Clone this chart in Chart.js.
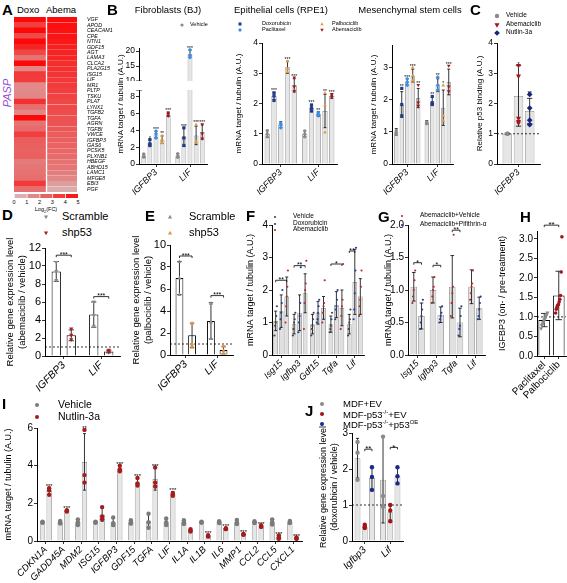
<!DOCTYPE html>
<html>
<head>
<meta charset="utf-8">
<script src="https://cdn.jsdelivr.net/npm/chart.js@4.4.1/dist/chart.umd.min.js"></script>
<style>
body { margin: 0; background: #fff; }
#fig { position: relative; width: 567px; height: 583px; overflow: hidden; background: #fff;
       font-family: 'Liberation Sans', Arial, Helvetica, sans-serif; color: #000; }
#fig canvas { position: absolute; }
.t { position: absolute; white-space: nowrap; line-height: 1; }
</style>
</head>
<body>
<div id="fig"></div>
<script>
// ---- A: PASP heatmap ----
const paspGenes = ['VGF','APOD','CEACAM1','CPE','NTN1','GDF15','AGT','LAMA3','CLCA2','PLA2G15','ISG15','LIF','MR1','PLTP','TSKU','PLAT','LYNX1','TGFB2','TGFA','AGRN','TGFBI','VWCE','IGFBP3','GAS6','PCSK5','PLXNB1','HBEGF','ABHD15','LAMC1','MFGE8','EBI3','PGF'];
const doxoLog2FC = [5.0,3.4,5.0,3.1,5.0,4.2,3.2,2.0,5.0,1.5,3.6,3.5,1.4,1.4,1.5,3.8,2.1,1.5,5.0,2.0,2.2,3.4,2.6,2.5,2.4,2.5,1.8,1.9,2.0,2.1,3.6,2.1];
const abemaLog2FC = [4.9,4.8,4.7,4.6,4.5,4.3,4.2,4.1,3.9,3.8,3.7,3.6,3.5,3.4,3.3,3.2,3.1,3.0,2.9,2.8,2.7,2.6,2.5,2.4,2.3,2.2,2.0,1.9,1.7,1.5,0.9,0.6];
const colorbarSteps = [0, 1, 2, 3, 4];
const colorbarTicks = [0, 1, 2, 3, 4, 5];

// ---- B: three cell types, rows = vehicle, doxorubicin, paclitaxel, palbociclib, abemaciclib ----
const bCats = ['IGFBP3', 'LIF'];
const bjMean = [[1.0,1.0],[2.5,3.2],[3.5,19.0],[2.9,3.4],[5.9,3.8]];
const bjSd = [[0.2,0.25],[0.35,1.1],[0.4,1.2],[0.45,1.1],[0.25,0.85]];
const bjPts = [[[0.8,0.95,1.2],[0.8,1.0,1.25]],[[2.2,2.4,2.9],[2.2,3.1,4.3]],[[3.1,3.6,3.9],[17.9,18.4,20.4]],[[2.5,2.8,3.4],[2.6,2.7,4.7]],[[5.7,5.9,6.1],[3.0,3.6,4.7]]];
const bjStars = [['',''],['*','***'],['***','***'],['**','***'],['***','***']];
const bjTicksHigh = [10, 15, 20];
const bjTicksLow = [0, 2, 4, 6, 8];

const rpeMean = [[1.0,1.0],[2.25,1.85],[1.3,1.65],[3.2,1.75],[2.6,2.25]];
const rpeSd = [[0.12,0.1],[0.12,0.12],[0.1,0.08],[0.2,0.55],[0.22,0.08]];
const rpePts = [[[0.9,1.0,1.1],[0.9,1.0,1.1]],[[2.1,2.25,2.35],[1.75,1.85,1.95]],[[1.2,1.3,1.35],[1.6,1.65,1.7]],[[3.05,3.15,3.4],[1.05,1.95,2.35]],[[2.4,2.55,2.85],[2.2,2.25,2.3]]];
const rpeStars = [['',''],['***','***'],['','**'],['***','**'],['***','***']];
const rpeTicks = [0, 1, 2, 3, 4];

const mscMean = [[1.0,1.3],[1.85,1.95],[2.55,2.45],[2.75,1.75],[2.05,2.55]];
const mscSd = [[0.1,0.05],[0.4,0.12],[0.1,0.2],[0.2,0.55],[0.3,0.4]];
const mscPts = [[[0.95,1.0,1.05],[1.25,1.3,1.3]],[[1.5,1.85,2.35],[1.85,1.9,2.1]],[[2.45,2.55,2.65],[2.3,2.45,2.7]],[[2.6,2.75,3.0],[1.35,1.5,2.45]],[[1.8,1.9,2.45],[2.25,2.4,3.05]]];
const mscStars = [['',''],['**','**'],['***','**'],['***','*'],['**','***']];
const mscTicks = [0, 1, 2, 3];

// ---- C: p53 binding, rows = vehicle, abemaciclib, nutlin-3a ----
const cCats = ['IGFBP3'];
const cMean = [[1.0],[2.25],[1.75]];
const cSd = [[0.02],[1.0],[0.42]];
const cPts = [[[1.0,1.0]],[[1.35,1.4,1.5,2.9,3.25]],[[1.3,1.45,1.85,2.3]]];
const cStars = [[''],['*'],['**']];
const cTicks = [0, 1, 2, 3, 4];

// ---- D / E: scramble vs shp53 ----
const deCats = ['IGFBP3', 'LIF'];
const dMean = [[9.4,4.6],[2.3,0.5]];
const dSd = [[1.1,1.4],[0.6,0.15]];
const dPts = [[[8.4,9.4,10.4],[3.3,4.5,6.0]],[[1.8,2.3,3.0],[0.4,0.5,0.65]]];
const dBrackets = [[0,0,0,1,11.2,'***'],[1,0,1,1,6.6,'***']];
const dTicks = [0, 2, 4, 6, 8, 10, 12];
const eMean = [[7.0,3.1],[1.8,0.45]];
const eSd = [[1.5,1.65],[1.1,0.35]];
const ePts = [[[5.5,7.0,8.5],[1.5,3.0,4.7]],[[0.7,1.0,2.9],[0.2,0.4,0.8]]];
const eBrackets = [[0,0,0,1,9.0,'***'],[1,0,1,1,5.4,'***']];
const eTicks = [0, 2, 4, 6, 8, 10];

// ---- F: mouse tissue, rows = vehicle, doxorubicin, abemaciclib ----
const fCats = ['Isg15','Igfbp3','Gdf15','Tgfa','Lif'];
const fMean = [[1.05,0.95,0.95,0.95,0.95],[1.35,1.3,1.3,1.55,2.25],[1.8,1.9,1.45,1.45,1.8]];
const fSd = [[0.3,0.3,0.3,0.25,0.3],[0.5,0.55,0.35,0.4,1.0],[0.6,0.6,0.35,0.55,0.55]];
const fPts = [
  [[0.6,0.9,1.0,1.2,1.5],[0.6,0.8,1.0,1.1,1.3],[0.6,0.8,0.9,1.1,1.3],[0.7,0.8,0.9,1.1,1.3],[0.6,0.8,1.0,1.1,1.4]],
  [[0.8,1.1,1.3,1.6,2.0],[0.7,1.0,1.2,1.6,2.7],[1.0,1.1,1.3,1.5,1.7],[1.1,1.4,1.5,1.7,2.0],[1.1,1.4,1.9,2.6,3.3]],
  [[1.0,1.5,1.8,2.1,2.6],[0.8,1.6,2.0,2.2,2.9],[1.0,1.3,1.5,1.6,2.3],[0.8,1.2,1.5,1.7,2.8],[1.2,1.5,1.7,2.1,2.6]]
];
const fBrackets = [[0,0,0,2,2.3,'**'],[1,0,1,2,2.75,'**'],[3,0,3,2,2.8,'*'],[4,0,4,1,3.2,'**']];
const fTicks = [0, 1, 2, 3, 4];

// ---- G: abemaciclib + vehicle / + pifithrin ----
const gCats = ['Isg15','Igfbp3','Tgfa','Lif'];
const gMean = [[1.05,1.0,1.05,1.05],[0.6,0.62,0.5,0.72]];
const gSd = [[0.22,0.2,0.48,0.26],[0.2,0.12,0.22,0.17]];
const gPts = [
  [[0.8,0.9,1.0,1.15,1.3],[0.8,0.9,1.0,1.05,1.2],[0.6,0.8,0.95,1.05,1.85],[0.85,0.95,1.05,1.1,1.3]],
  [[0.4,0.5,0.6,0.7,0.85],[0.5,0.55,0.6,0.65,0.75],[0.3,0.4,0.45,0.6,0.75],[0.55,0.6,0.7,0.8,0.9]]
];
const gBrackets = [[0,0,0,1,1.42,'*'],[1,0,1,1,1.38,'*'],[2,0,2,1,1.92,'**']];
const gTicks = [0, 0.5, 1.0, 1.5, 2.0];

// ---- H: patients ----
const hCats = ['Paclitaxel', 'Palbociclib'];
const hMean = [0.92, 1.55];
const hSd = [0.17, 0.62];
const hPts = [[0.7,0.78,0.82,0.86,0.9,0.93,0.97,1.02,1.06,1.1],[1.1,1.2,1.25,1.3,1.32,1.38,1.45,1.55,2.15,3.05]];
const hBrackets = [[0,0,1,1,3.35,'**']];
const hTicks = [0, 0.5, 1.0, 1.5, 2.0, 2.5, 3.0];

// ---- I: nutlin-3a ----
const iCats = ['CDKN1A','GADD45A','MDM2','ISG15','IGFBP3','GDF15','TGFA','LIF','IL1A','IL1B','IL6','MMP1','CCL2','CCL5','CXCL1'];
const iVeh = [1.0,1.0,1.0,1.0,1.0,1.0,1.05,1.0,1.0,1.0,1.0,1.0,1.0,1.0,1.0];
const iVehSd = [0.05,0.08,0.15,0.04,0.2,0.1,0.35,0.18,0.12,0.05,0.06,0.12,0.06,0.15,0.07];
const iVehPts = [[0.97,1.0,1.02],[0.93,1.0,1.07],[0.85,1.0,1.15],[0.97,1.0,1.03],[0.85,0.95,1.25],[0.92,1.0,1.1],[0.7,1.0,1.45],[0.85,1.0,1.2],[0.9,1.0,1.1],[0.97,1.0,1.03],[0.95,1.0,1.05],[0.9,0.98,1.12],[0.95,1.0,1.05],[0.88,1.0,1.15],[0.95,1.0,1.06]];
const iNut = [2.65,1.6,4.2,1.4,3.85,3.1,3.3,2.5,0.55,0.27,0.65,0.35,0.78,0.2,0.15];
const iNutSd = [0.2,0.05,1.5,0.35,0.15,0.2,0.6,0.12,0.08,0.06,0.04,0.04,0.05,0.1,0.04];
const iNutPts = [[2.45,2.7,2.8],[1.57,1.6,1.63],[3.1,3.5,5.9],[1.15,1.3,1.8],[3.7,3.8,4.0],[2.95,3.05,3.35],[2.9,3.1,3.9],[2.4,2.5,2.55],[0.5,0.55,0.62],[0.23,0.27,0.31],[0.63,0.65,0.68],[0.33,0.35,0.38],[0.75,0.78,0.82],[0.12,0.2,0.3],[0.12,0.15,0.19]];
const iStars = ['***','***','**','','***','***','***','***','','***','***','***','***','***','***'];
const iTicks = [0, 2, 4, 6];

// ---- J: MDF lines, rows = EV, p53-/- EV, p53-/- p53OE ----
const jCats = ['Igfbp3', 'Lif'];
const jMean = [[2.3,1.7],[0.4,0.8],[1.75,1.8]];
const jSd = [[0.55,1.2],[0.05,0.22],[0.33,0.23]];
const jPts = [[[1.7,2.45,2.75],[0.95,1.25,2.9]],[[0.36,0.4,0.45],[0.55,0.85,1.0]],[[1.42,1.78,2.05],[1.6,1.8,2.05]]];
const jBrackets = [[0,1,0,2,2.55,'**'],[1,1,1,2,2.6,'*']];
const jTicks = [0, 1, 2, 3];

// ------------------------------------------------------------------
const FAM = "'Liberation Sans', Arial, Helvetica, sans-serif";
Chart.defaults.font.family = FAM;
Chart.defaults.color = '#000';
const fig = document.getElementById('fig');

function mkCanvas(left, top, w, h) {
  const c = document.createElement('canvas');
  c.width = w; c.height = h;
  c.style.left = left + 'px'; c.style.top = top + 'px';
  c.style.width = w + 'px'; c.style.height = h + 'px';
  fig.appendChild(c);
  return c;
}

function txt(html, x, y, size, css) {
  const d = document.createElement('div');
  d.className = 't';
  d.innerHTML = html;
  d.style.left = x + 'px';
  d.style.top = y + 'px';
  d.style.fontSize = size + 'px';
  if (css) d.style.cssText += css;
  fig.appendChild(d);
  return d;
}
function vtxt(html, cx, cy, size, css) {
  return txt(html, cx, cy, size, 'transform:translate(-50%,-50%) rotate(-90deg);' + (css || ''));
}

function drawMark(ctx, st, x, y, r, c) {
  ctx.fillStyle = c;
  ctx.beginPath();
  if (st === 'square') ctx.rect(x - r, y - r, 2 * r, 2 * r);
  else if (st === 'diamond') { ctx.moveTo(x, y - r * 1.3); ctx.lineTo(x + r * 1.3, y); ctx.lineTo(x, y + r * 1.3); ctx.lineTo(x - r * 1.3, y); }
  else if (st === 'tri') { ctx.moveTo(x, y - r * 1.2); ctx.lineTo(x + r * 1.15, y + r * 0.8); ctx.lineTo(x - r * 1.15, y + r * 0.8); }
  else if (st === 'tridown') { ctx.moveTo(x, y + r * 1.2); ctx.lineTo(x + r * 1.15, y - r * 0.8); ctx.lineTo(x - r * 1.15, y - r * 0.8); }
  else ctx.arc(x, y, r, 0, Math.PI * 2);
  ctx.closePath();
  ctx.fill();
}

function legend(items, mx, tx, ys, size, r) {
  items.forEach((it, k) => {
    const c = document.createElement('canvas');
    c.width = 12; c.height = 12;
    c.style.left = (mx - 6) + 'px'; c.style.top = (ys[k] - 6) + 'px';
    fig.appendChild(c);
    drawMark(c.getContext('2d'), it[1], 6, 6, r, it[2]);
    txt(it[0], tx, ys[k] - size * 0.56, size);
  });
}

// error bars, replicate points, stars, brackets and reference lines
const extras = {
  id: 'extras',
  afterDatasetsDraw(chart, args, o) {
    const ctx = chart.ctx, ys = chart.scales.y, a = chart.chartArea;
    const yp = v => ys.getPixelForValue(v);
    ctx.save();
    ctx.strokeStyle = '#000';
    ctx.lineWidth = 0.8;
    if (o.ref != null) {
      ctx.setLineDash([2, 2]);
      ctx.beginPath(); ctx.moveTo(a.left, yp(o.ref)); ctx.lineTo(a.right, yp(o.ref)); ctx.stroke();
      ctx.setLineDash([]);
    }
    ctx.save();
    ctx.beginPath(); ctx.rect(a.left - 5, a.top, a.right - a.left + 10, a.bottom - a.top); ctx.clip();
    chart.data.datasets.forEach((ds, i) => {
      chart.getDatasetMeta(i).data.forEach((bar, j) => {
        const m = ds.data[j];
        if (m == null) return;
        const x = bar.x, cap = Math.max(1.5, bar.width * 0.28);
        if (ds.sd) {
          const lo = yp(m - ds.sd[j]), hi = yp(m + ds.sd[j]);
          ctx.beginPath();
          ctx.moveTo(x, lo); ctx.lineTo(x, hi);
          ctx.moveTo(x - cap, hi); ctx.lineTo(x + cap, hi);
          ctx.moveTo(x - cap, lo); ctx.lineTo(x + cap, lo);
          ctx.stroke();
        }
        if (ds.pts) {
          const p = ds.pts[j], n = p.length;
          p.forEach((v, k) => drawMark(ctx, ds.mk, x + (k - (n - 1) / 2) * (o.spread || 0), yp(v), ds.mr, ds.mc));
        }
      });
    });
    ctx.restore();
    ctx.fillStyle = '#000';
    ctx.textAlign = 'center';
    ctx.textBaseline = 'alphabetic';
    const sf = o.starFont || 5;
    ctx.font = sf + 'px ' + FAM;
    chart.data.datasets.forEach((ds, i) => {
      if (!ds.stars) return;
      chart.getDatasetMeta(i).data.forEach((bar, j) => {
        const s = ds.stars[j];
        if (!s) return;
        let top = ds.data[j] + (ds.sd ? ds.sd[j] : 0);
        if (ds.pts) top = Math.max(top, ...ds.pts[j]);
        if (top < ys.min || top > ys.max) return;
        ctx.fillText(s, bar.x, yp(top) - 2 + sf * 0.4);
      });
    });
    const bf = o.bracketFont || 7;
    ctx.font = bf + 'px ' + FAM;
    (o.brackets || []).forEach(b => {
      const p = chart.getDatasetMeta(b[1]).data[b[0]], q = chart.getDatasetMeta(b[3]).data[b[2]];
      const y = yp(b[4]);
      ctx.beginPath(); ctx.moveTo(p.x, y + 2); ctx.lineTo(p.x, y); ctx.lineTo(q.x, y); ctx.lineTo(q.x, y + 2); ctx.stroke();
      ctx.fillText(b[5], (p.x + q.x) / 2, y - 1 + bf * 0.4);
    });
    if (o.brk) {
      const yy = o.brk === 'top' ? a.top : a.bottom;
      ctx.beginPath(); ctx.moveTo(a.left - 3, yy); ctx.lineTo(a.left + 3, yy); ctx.stroke();
    }
    ctx.restore();
  }
};

function sets(means, sds, pts, stars, styles, r) {
  return means.map((m, k) => ({ mean: m, sd: sds[k], pts: pts[k], stars: stars ? stars[k] : null, mk: styles[k][0], mc: styles[k][1], mr: r }));
}

function barPanel(o) {
  const [x0, x1, y0, y1] = o.box;
  const L = o.L, R = o.R ?? 3, T = o.T ?? 8, B = o.B ?? 0;
  const cv = mkCanvas(x0 - L, y0 - T, L + (x1 - x0) + R, T + (y1 - y0) + B);
  const datasets = o.sets.map(s => ({
    data: s.mean, sd: s.sd, pts: s.pts, stars: s.stars, mk: s.mk, mc: s.mc, mr: s.mr ?? 1.8,
    backgroundColor: o.fill ?? '#e6e6e6', borderColor: o.edge ?? '#8a8a8a', borderWidth: o.bw ?? 0.8,
    categoryPercentage: o.catPct ?? 0.85, barPercentage: o.barPct ?? 0.8, skipNull: !!o.skipNull, clip: 0
  }));
  return new Chart(cv, {
    type: 'bar',
    data: { labels: o.labels, datasets },
    options: {
      responsive: false, animation: false, events: [], devicePixelRatio: 1,
      layout: { padding: { left: 0, right: R, top: T, bottom: 0 } },
      scales: {
        x: {
          display: B > 0,
          grid: { display: true, drawOnChartArea: false, offset: false, tickLength: 3, color: '#000', lineWidth: 0.8 },
          border: { display: true, color: '#000', width: 1 },
          ticks: { color: '#000', autoSkip: false, minRotation: 45, maxRotation: 45, padding: 0,
                   font: { size: o.xFont ?? 9, style: o.italic === false ? 'normal' : 'italic' } },
          afterFit: s => { s.height = B; s.paddingLeft = 0; s.paddingRight = 0; }
        },
        y: {
          min: o.ticks[0], max: o.max ?? o.ticks[o.ticks.length - 1],
          grid: { display: true, drawOnChartArea: false, tickLength: 3, color: '#000', lineWidth: 0.8 },
          border: { display: true, color: '#000', width: 1 },
          ticks: { color: '#000', padding: 1, font: { size: o.yFont ?? 9 }, callback: v => v.toFixed(o.dec ?? 0) },
          title: { display: !!o.yTitle, text: o.yTitle, color: '#000', font: { size: o.tFont ?? 8 }, padding: { top: 0, bottom: 1 } },
          afterBuildTicks: ax => { ax.ticks = o.ticks.map(v => ({ value: v })); },
          afterFit: s => { s.width = L; s.paddingTop = 0; s.paddingBottom = 0; }
        }
      },
      plugins: {
        legend: { display: false }, tooltip: { enabled: false },
        extras: { ref: o.ref, brackets: o.brackets, spread: o.spread ?? 0, starFont: o.starFont, bracketFont: o.bracketFont, brk: o.brk }
      }
    },
    plugins: [extras]
  });
}

function heat(v) {
  const t = Math.pow(Math.max(0, Math.min(1, v / 5)), 0.85);
  const g = [212, 204, 204], r = [252, 8, 8];
  return 'rgb(' + g.map((c, k) => Math.round(c + (r[k] - c) * t)).join(',') + ')';
}

// ---- A ----
new Chart(mkCanvas(14, 17, 63 + 40, 175), {
  type: 'bar',
  data: {
    labels: paspGenes,
    datasets: [
      { data: paspGenes.map(() => 1), backgroundColor: doxoLog2FC.map(heat), borderWidth: 0, barPercentage: 1, categoryPercentage: 1 },
      { data: paspGenes.map(() => 1), backgroundColor: abemaLog2FC.map(heat), borderColor: '#fff',
        borderWidth: { left: 2, right: 0, top: 0, bottom: 0 }, borderSkipped: false, barPercentage: 1, categoryPercentage: 1 }
    ]
  },
  options: {
    indexAxis: 'y', responsive: false, animation: false, events: [], devicePixelRatio: 1,
    layout: { padding: 0 },
    scales: {
      x: { stacked: true, min: 0, max: 2, display: false },
      y: { stacked: true, position: 'right', grid: { display: false }, border: { display: false },
           ticks: { autoSkip: false, color: '#000', padding: 2, font: { size: 5.3, style: 'italic' } },
           afterFit: s => { s.width = 40; s.paddingTop = 0; s.paddingBottom = 0; } }
    },
    plugins: { legend: { display: false }, tooltip: { enabled: false } }
  }
});
const cbar = new Chart(mkCanvas(14, 194, 64, 4), {
  type: 'bar',
  data: {
    labels: [''],
    datasets: colorbarSteps.map(s => ({ data: [1], backgroundColor: heat(s + 0.5), borderColor: '#fff',
      borderWidth: { left: 1, right: 0, top: 0, bottom: 0 }, borderSkipped: false, barPercentage: 1, categoryPercentage: 1 }))
  },
  options: {
    indexAxis: 'y', responsive: false, animation: false, events: [], devicePixelRatio: 1,
    layout: { padding: 0 },
    scales: {
      x: { stacked: true, min: 0, max: 5, display: false },
      y: { stacked: true, display: false }
    },
    plugins: { legend: { display: false }, tooltip: { enabled: false } }
  }
});
colorbarTicks.forEach(v => txt(String(v), 14 + cbar.scales.x.getPixelForValue(v), 200, 5.5, 'transform:translateX(-50%)'));
txt('Log<sub style="font-size:4px">2</sub>(FC)', 46, 207, 5.5, 'transform:translateX(-50%)');
txt('A', 2, 2, 15, 'font-weight:bold');
txt('Doxo', 17, 5, 9.5);
txt('Abema', 46, 5, 9.5);
vtxt('PASP', 7, 93, 11, 'color:#9a4fd6;font-style:italic');

// ---- B ----
const bStyles = [['circle','#8a8a8a'],['square','#1f3b8a'],['diamond','#3a8ee6'],['tri','#e39a3b'],['tridown','#a3161b']];
txt('B', 107, 2, 15, 'font-weight:bold');
txt('Fibroblasts (BJ)', 168, 5, 9.5, 'transform:translateX(-50%)');
txt('Epithelial cells (RPE1)', 281, 5, 9.5, 'transform:translateX(-50%)');
txt('Mesenchymal stem cells', 410, 5, 9.5, 'transform:translateX(-50%)');
legend([['Vehicle','circle','#8a8a8a']], 182, 190, [25], 5.5, 1.6);
legend([['Doxorubicin','square','#1f3b8a'],['Paclitaxel','diamond','#3a8ee6']], 240, 262, [24, 30], 5.5, 1.5);
legend([['Palbociclib','tri','#e39a3b'],['Abemaciclib','tridown','#a3161b']], 322, 332, [24, 30], 5.5, 1.5);
vtxt('mRNA target / tubulin (A.U.)', 121, 104, 8);

barPanel({ box: [139, 207, 48, 81], L: 26, R: 4, T: 8, B: 0, labels: bCats, sets: sets(bjMean, bjSd, bjPts, bjStars, bStyles, 1.6),
  ticks: bjTicksHigh, max: 21, yFont: 8.5, catPct: 0.9, barPct: 0.78, brk: 'bottom', starFont: 5 });
barPanel({ box: [139, 207, 90, 164], L: 26, R: 4, T: 0, B: 40, labels: bCats, sets: sets(bjMean, bjSd, bjPts, bjStars, bStyles, 1.6),
  ticks: bjTicksLow, max: 8.8, yFont: 8.5, xFont: 9, catPct: 0.9, barPct: 0.78, brk: 'top', starFont: 5 });
barPanel({ box: [262, 337, 43, 164], L: 28, R: 3, T: 10, B: 40, labels: bCats, sets: sets(rpeMean, rpeSd, rpePts, rpeStars, bStyles, 1.6),
  ticks: rpeTicks, yFont: 8.5, xFont: 9, catPct: 0.9, barPct: 0.78, starFont: 5, yTitle: 'mRNA target / tubulin (A.U.)', tFont: 8 });
barPanel({ box: [392, 453, 45, 164], L: 23, R: 4, T: 10, B: 40, labels: bCats, sets: sets(mscMean, mscSd, mscPts, mscStars, bStyles, 1.6),
  ticks: mscTicks, max: 3.7, yFont: 8.5, xFont: 9, catPct: 0.9, barPct: 0.78, starFont: 5, yTitle: 'mRNA target / tubulin (A.U.)', tFont: 8 });

// ---- C ----
txt('C', 470, 2, 15, 'font-weight:bold');
legend([['Vehicle','circle','#8a8a8a'],['Abemaciclib','tridown','#a3161b'],['Nutlin-3a','diamond','#1a237e']], 497, 506, [16, 24.5, 33], 6.5, 2.2);
barPanel({ box: [497, 540, 43, 164], L: 22, R: 4, T: 10, B: 40, labels: cCats,
  sets: sets(cMean, cSd, cPts, cStars, [['circle','#8a8a8a'],['tridown','#a3161b'],['diamond','#1a237e']], 2.2),
  ticks: cTicks, yFont: 8.5, xFont: 9, catPct: 0.78, barPct: 0.85, ref: 1, starFont: 5.5, yTitle: 'Relative p53 binding (A.U.)', tFont: 8 });

// ---- D / E ----
txt('D', 2, 207, 15, 'font-weight:bold');
legend([['Scramble','tridown','#8a8a8a'],['shp53','tridown','#b01c1c']], 46, 62, [217, 233], 11, 1.8);
barPanel({ box: [45, 120, 248, 356], L: 40, R: 4, T: 10, B: 45, labels: deCats,
  sets: sets(dMean, dSd, dPts, null, [['tridown','#8a8a8a'],['tridown','#b01c1c']], 1.8),
  ticks: dTicks, yFont: 11, xFont: 10.5, catPct: 0.8, barPct: 0.62, fill: '#fff', edge: '#000', bw: 1, ref: 1,
  brackets: dBrackets, bracketFont: 7, yTitle: ['Relative gene expression level', '(abemaciclib / vehicle)'], tFont: 9.5 });

txt('E', 145, 208, 15, 'font-weight:bold');
legend([['Scramble','tri','#8a8a8a'],['shp53','tri','#e0953a']], 170, 189, [217, 233], 11, 1.8);
barPanel({ box: [170, 233, 245, 355], L: 39, R: 4, T: 10, B: 45, labels: deCats,
  sets: sets(eMean, eSd, ePts, null, [['tri','#8a8a8a'],['tri','#e0953a']], 1.8),
  ticks: eTicks, yFont: 11, xFont: 10.5, catPct: 0.8, barPct: 0.62, fill: '#fff', edge: '#000', bw: 1, ref: 1,
  brackets: eBrackets, bracketFont: 7, yTitle: ['Relative gene expression level', '(palbociclib / vehicle)'], tFont: 9.5 });

// ---- F ----
txt('F', 246, 208, 15, 'font-weight:bold');
legend([['Vehicle','circle','#444'],['Doxorubicin','circle','#1f3fa0'],['Abemaciclib','circle','#c0282d']], 275, 293, [217, 223.5, 230], 6.5, 1.1);
barPanel({ box: [272, 364, 225, 355], L: 27, R: 3, T: 6, B: 45, labels: fCats,
  sets: sets(fMean, fSd, fPts, null, [['circle','#444'],['circle','#1f3fa0'],['circle','#c0282d']], 1.1),
  ticks: fTicks, yFont: 10, xFont: 9, catPct: 0.9, barPct: 0.85, fill: '#e0e0e0', spread: 0.6,
  brackets: fBrackets, bracketFont: 7, yTitle: 'mRNA target / tubulin (A.U.)', tFont: 9 });

// ---- G ----
txt('G', 378, 209, 15, 'font-weight:bold');
legend([['Abemaciclib+Vehicle','circle','#c0282d'],['Abemaciclib+Pifithrin-\u03b1','circle','#1f3fa0']], 402, 420, [216, 225], 6.5, 1.1);
barPanel({ box: [408, 485, 225, 355], L: 25, R: 3, T: 6, B: 45, labels: gCats,
  sets: sets(gMean, gSd, gPts, null, [['circle','#c0282d'],['circle','#1f3fa0']], 1.1),
  ticks: gTicks, dec: 1, yFont: 10, xFont: 9, catPct: 0.8, barPct: 0.85, fill: '#e0e0e0', spread: 0.7,
  brackets: gBrackets, bracketFont: 7, yTitle: 'mRNA target / tubulin (A.U.)', tFont: 9 });

// ---- H ----
txt('H', 520, 209, 15, 'font-weight:bold');
barPanel({ box: [537, 566, 231, 356], L: 40, R: 1, T: 16, B: 45, labels: hCats, skipNull: true,
  sets: [
    { mean: [hMean[0], null], sd: [hSd[0], 0], pts: [hPts[0], []], mk: 'tridown', mc: '#8a8a8a', mr: 1.8 },
    { mean: [null, hMean[1]], sd: [0, hSd[1]], pts: [[], hPts[1]], mk: 'circle', mc: '#a3161b', mr: 1.8 }
  ],
  ticks: hTicks, max: 3.2, dec: 1, yFont: 10, xFont: 10, italic: false, catPct: 0.85, barPct: 0.95, fill: '#fff', edge: '#000', bw: 1,
  ref: 1, spread: 0.7, brackets: hBrackets, bracketFont: 8, yTitle: 'IGFBP3 (on- / pre-treatment)', tFont: 9 });

// ---- I ----
txt('I', 2, 396, 15, 'font-weight:bold');
legend([['Vehicle','circle','#7a7a7a'],['Nutlin-3a','circle','#a51c1c']], 37, 58, [405, 417], 10.5, 2);
barPanel({ box: [37, 302, 428, 541], L: 34, R: 3, T: 8, B: 42, labels: iCats,
  sets: [
    { mean: iVeh, sd: iVehSd, pts: iVehPts, mk: 'circle', mc: '#7a7a7a', mr: 2.2 },
    { mean: iNut, sd: iNutSd, pts: iNutPts, stars: iStars, mk: 'circle', mc: '#a51c1c', mr: 2.2 }
  ],
  ticks: iTicks, yFont: 10, xFont: 9.5, catPct: 0.75, barPct: 0.8, starFont: 6, yTitle: 'mRNA target / tubulin (A.U.)', tFont: 9 });

// ---- J ----
txt('J', 305, 403, 15, 'font-weight:bold');
legend([['MDF+EV','circle','#8a8a8a'],['MDF-p53<sup style="font-size:6px">-/-</sup>+EV','circle','#a31515'],['MDF-p53<sup style="font-size:6px">-/-</sup>+p53<sup style="font-size:6px">OE</sup>','circle','#1a2a8a']], 322, 343, [404, 414, 424], 9.5, 2);
barPanel({ box: [352, 403, 433, 541], L: 34, R: 4, T: 10, B: 42, labels: jCats,
  sets: sets(jMean, jSd, jPts, null, [['circle','#8a8a8a'],['circle','#a31515'],['circle','#1a2a8a']], 2.2),
  ticks: jTicks, yFont: 10, xFont: 10, catPct: 0.85, barPct: 0.8, ref: 1, brackets: jBrackets, bracketFont: 8,
  yTitle: ['Relative gene expression level', '(doxorubicin / vehicle)'], tFont: 9 });
</script>
</body>
</html>
